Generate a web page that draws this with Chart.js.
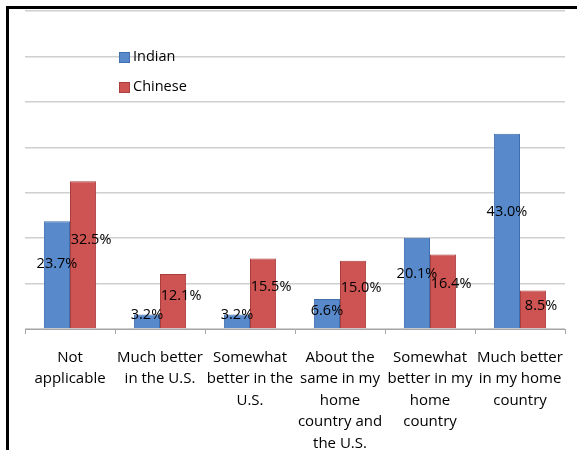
<!DOCTYPE html>
<html lang="en">
<head>
    <meta charset="UTF-8">
    <title>Indian vs Chinese responses</title>
    <script src="https://cdn.jsdelivr.net/npm/chart.js"></script>
    <style>
        html, body { margin: 0; padding: 0; background: #fff; overflow: hidden; }
        #wrap { position: relative; width: 577px; height: 450px; overflow: hidden; }
        .edge { position: absolute; background: #000; }
        #edgeTop { left: 6px; top: 6px; width: 571px; height: 3px; }
        #edgeLeft { left: 6px; top: 6px; width: 3px; height: 444px; }
    </style>
</head>
<body>
    <div id="wrap">
        <canvas id="chart" width="577" height="450"></canvas>
        <div class="edge" id="edgeTop"></div>
        <div class="edge" id="edgeLeft"></div>
    </div>

    <script>
        const categories = [
            ['Not', 'applicable'],
            ['Much better', 'in the U.S.'],
            ['Somewhat', 'better in the', 'U.S.'],
            ['About the', 'same in my', 'home', 'country and', 'the U.S.'],
            ['Somewhat', 'better in my', 'home', 'country'],
            ['Much better', 'in my home', 'country']
        ];
        const indian = [23.7, 3.2, 3.2, 6.6, 20.1, 43.0];
        const chinese = [32.5, 12.1, 15.5, 15.0, 16.4, 8.5];
        const seriesNames = ['Indian', 'Chinese'];

        const FONT = '"Open Sans", Lato, sans-serif';

        // value labels drawn over each bar
        const valueLabels = {
            id: 'valueLabels',
            afterDatasetsDraw(chart) {
                const ctx = chart.ctx;
                const bottom = chart.chartArea.bottom;
                ctx.save();
                ctx.font = '14.5px ' + FONT;
                ctx.fillStyle = '#000';
                ctx.textAlign = 'center';
                ctx.textBaseline = 'middle';
                chart.data.datasets.forEach((ds, i) => {
                    const meta = chart.getDatasetMeta(i);
                    const shift = i === 1 ? 8 : 0;
                    meta.data.forEach((bar, j) => {
                        const h = bar.base - bar.y;
                        const y = Math.min(bar.y + h * 0.4, bottom - 14);
                        ctx.fillText(ds.data[j].toFixed(1) + '%', bar.x + shift, y);
                    });
                });
                ctx.restore();
            }
        };

        // legend stacked inside the plot area
        const innerLegend = {
            id: 'innerLegend',
            afterDraw(chart) {
                const ctx = chart.ctx;
                ctx.save();
                ctx.font = '14.5px ' + FONT;
                ctx.textBaseline = 'middle';
                chart.data.datasets.forEach((ds, i) => {
                    const y = 57 + i * 30;
                    ctx.fillStyle = ds.backgroundColor;
                    ctx.fillRect(119, y - 5, 11, 11);
                    ctx.strokeStyle = ds.borderColor;
                    ctx.lineWidth = 1;
                    ctx.strokeRect(119.5, y - 4.5, 10, 10);
                    ctx.fillStyle = '#000';
                    ctx.fillText(ds.label, 133, y);
                });
                ctx.restore();
            }
        };

        new Chart(document.getElementById('chart'), {
            type: 'bar',
            data: {
                labels: categories,
                datasets: [
                    {
                        label: seriesNames[0],
                        data: indian,
                        backgroundColor: '#5889cb',
                        borderColor: '#3f6fae',
                        borderWidth: 1
                    },
                    {
                        label: seriesNames[1],
                        data: chinese,
                        backgroundColor: '#cd5452',
                        borderColor: '#a93e3c',
                        borderWidth: 1
                    }
                ]
            },
            options: {
                responsive: false,
                animation: false,
                layout: { padding: { left: 25, right: 12, top: 11, bottom: 0 } },
                datasets: {
                    bar: { categoryPercentage: 0.58, barPercentage: 1 }
                },
                plugins: {
                    legend: { display: false },
                    tooltip: { enabled: false }
                },
                scales: {
                    x: {
                        grid: {
                            offset: true,
                            drawOnChartArea: false,
                            drawTicks: true,
                            tickLength: 5,
                            color: '#a6a6a6'
                        },
                        border: { display: true, color: '#a6a6a6' },
                        ticks: {
                            maxRotation: 0,
                            autoSkip: false,
                            padding: 13,
                            color: '#000',
                            font: { family: FONT, size: 15, lineHeight: 1.43 }
                        },
                        afterFit(scale) { scale.height = 121; }
                    },
                    y: {
                        min: 0,
                        max: 70,
                        ticks: { display: false, stepSize: 10 },
                        grid: { drawTicks: false, color: '#cfcfcf', lineWidth: 1.5 },
                        border: { display: false },
                        afterFit(scale) { scale.width = 0; }
                    }
                }
            },
            plugins: [valueLabels, innerLegend]
        });
    </script>
</body>
</html>
